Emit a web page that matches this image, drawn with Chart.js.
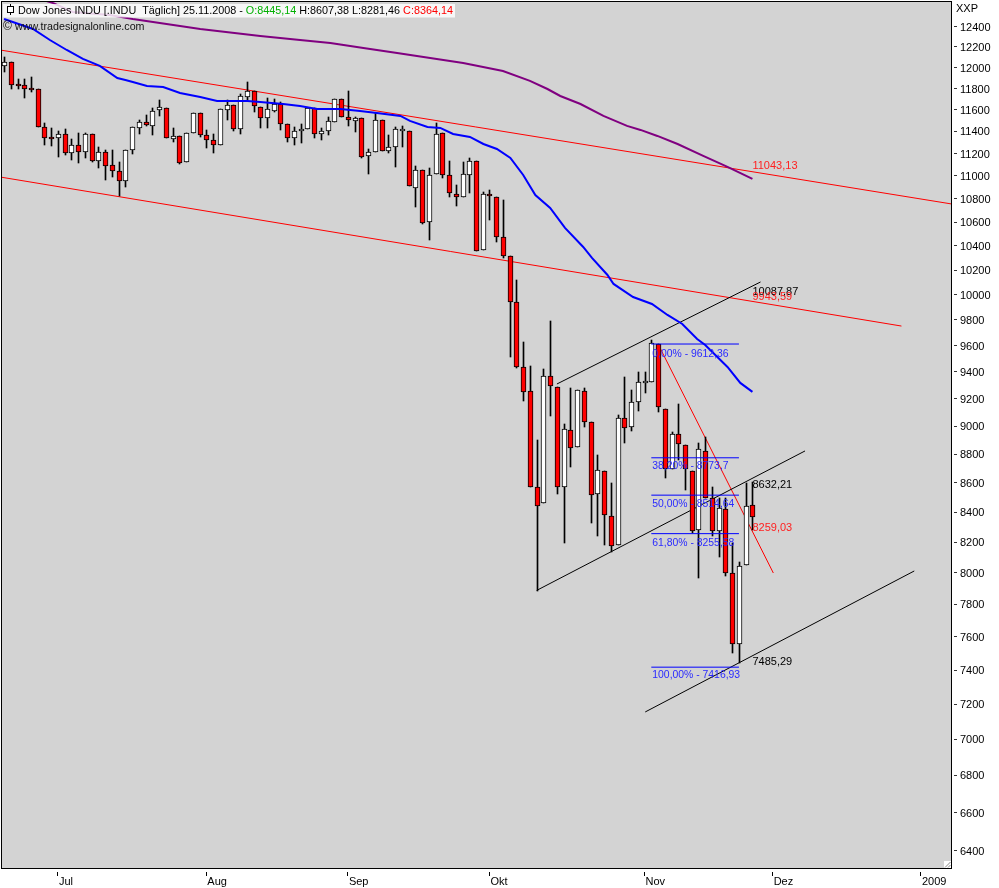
<!DOCTYPE html>
<html>
<head>
<meta charset="utf-8">
<style>html,body{margin:0;padding:0;background:#fff}#w{width:999px;height:888px;position:relative}</style>
<script src="https://cdn.jsdelivr.net/npm/chart.js@4"></script>
</head>
<body>
<div id="w"><canvas id="c" width="999" height="888"></canvas></div>
<script>
// Daily candles, index 0 .. 111 (last one = 25.11.2008)
const opens = [12010,12049,11838,11829,11800,11795,11441,11345,11341,11377,11205,11277,11214,11377,11133,11214,11097,11044,10956,11232,
11432,11487,11451,11598,11617,11332,11359,11124,11387,11570,11368,11323,11277,11598,11645,11423,11720,11776,11626,11524,
11589,11654,11469,11341,11405,11423,11617,11377,11405,11487,11701,11534,11497,11524,11178,11214,11506,11223,11259,11410,
11405,10894,11053,10602,11018,11387,11009,10842,10816,11009,11133,10366,10842,10816,10474,10316,9942,9437,9257,8571,
8461,9369,9287,8571,8972,8850,9257,9030,8523,8681,8374,8181,9059,8994,9175,9318,9324,9613,9124,8695,
8943,8865,8681,8280,8822,8496,8273,8421,7999,7557,8051,8445.14];
const highs = [12102,12049,11891,11891,11910,11795,11478,11432,11405,11423,11332,11387,11387,11377,11259,11232,11232,11124,11232,11441,
11506,11552,11617,11692,11617,11432,11359,11387,11570,11570,11414,11377,11607,11692,11645,11748,11862,11776,11626,11711,
11701,11673,11469,11441,11469,11617,11617,11432,11534,11701,11701,11777,11534,11524,11241,11570,11506,11368,11441,11451,
11405,11088,11053,11071,11478,11387,11133,10921,11124,11160,11133,10860,10877,10816,10790,10316,10119,9629,9444,8900,
9422,9792,9287,9015,9279,9264,9279,9030,8794,8681,8598,9080,9361,9264,9399,9399,9644,9613,9124,8958,
9161,8865,8681,8879,8922,8571,8496,8496,8194,8070,8598,8607.38];
const lows = [11958,11796,11795,11711,11767,11441,11277,11268,11169,11187,11142,11115,11160,11124,11071,10965,10991,10825,10903,11196,
11377,11451,11368,11543,11341,11305,11106,11124,11387,11350,11250,11205,11277,11506,11405,11377,11692,11580,11432,11432,
11580,11414,11305,11277,11296,11423,11341,11323,11368,11487,11534,11451,11396,11160,11018,11214,11223,11205,11080,11259,
10912,10730,10585,10449,11018,10983,10816,10738,10816,10851,10358,10366,10619,10432,10300,9513,9429,9183,8571,7885,
8461,9073,8523,8194,8709,8850,8994,8327,8240,8181,8135,8181,8879,8965,9110,9242,9324,9103,8633,8695,
8758,8550,8260,7967,8496,8240,8102,7980,7502,7440,8051,8281.46];
const closes = [12049,11829,11829,11791,11792,11441,11341,11338,11377,11205,11277,11214,11377,11133,11214,11088,11044,10956,11232,11441,
11487,11460,11589,11626,11341,11359,11115,11387,11570,11368,11323,11277,11607,11645,11423,11729,11776,11635,11524,11607,
11654,11469,11341,11405,11423,11617,11377,11405,11497,11701,11534,11506,11524,11169,11214,11506,11223,11259,11423,11418,
10912,11053,10593,11009,11377,11009,10851,10816,11018,11133,10358,10842,10825,10474,10316,9942,9437,9249,8571,8441,
9369,9294,8571,8979,8843,9264,9030,8516,8688,8380,8174,9059,8986,9175,9324,9329,9621,9139,8695,8943,
8872,8695,8273,8836,8496,8273,8427,7999,7557,8044,8441,8364.14];

// Moving averages: day index and value
const blueDays = [0,4.3,6.8,9.3,11.7,14.2,16.8,18,19.1,21.2,23.6,26.1,29.1,31.6,36.1,38,41.4,43.9,46.4,49.9,52.8,55.3,58.8,60.2,62.8,64.7,66.6,69.1,71.1,73.1,75.1,77,78.8,81,83.2,85.9,87.2,89.5,90.4,93.3,96.1,98.4,100.6,102.8,104,107.3,109.2,111];
const blueVals = [12477,12377,12268,12170,12083,12016,11900,11881,11862,11824,11814,11758,11720,11682,11682,11673,11654,11635,11607,11607,11589,11570,11543,11497,11441,11432,11377,11350,11286,11241,11160,11009,10833,10721,10551,10391,10300,10160,10087,9982,9926,9839,9768,9651,9605,9437,9317,9250];
const purpleDays = [5.8,7.3,10.2,15.7,19.1,29.1,38,43.9,48.4,53.3,58.3,63.2,68.1,74,78,80.6,82.5,85.5,88.9,92.4,94.4,96.9,99.9,103.7,107.3,111];
const purpleVals = [12668,12636,12547,12517,12477,12377,12308,12268,12238,12189,12140,12092,12043,11967,11872,11795,11729,11654,11543,11451,11414,11359,11286,11178,11080,10974];

// Trend lines: [day, value, day, value]
const redLines = [[-0.6,12170,140.5,10756],[-0.6,10991,133.1,9752],[97,9613,114.1,7999]];
const blackLines = [[82,9309,112.2,10103],[79,7888,118.8,8822],[95.1,7155,135,8012]];

// Fibonacci levels
const fibFrom = 96, fibTo = 109;
const fibVals = [9612.36,8773.7,8514.64,8255.58,7416.93];
const fibLabels = ['0,00% - 9612,36','38,20% - 8773,7','50,00% - 8514,64','61,80% - 8255,58','100,00% - 7416,93'];
const fibLabelPrices = [9544,8723,8461,8201,7377];

// Value labels at the last bar
const valueLabels = ['11043,13','10087,87','9943,59','8632,21','8259,03','7485,29'];
const valueLabelPrices = [11097,10030,9990,8591,8300,7454];
const valueLabelColors = ['#ff2020','#000000','#ff2020','#000000','#ff2020','#000000'];

const yTicks = [6400,6600,6800,7000,7200,7400,7600,7800,8000,8200,8400,8600,8800,9000,9200,9400,9600,9800,10000,10200,10400,10600,10800,11000,11200,11400,11600,11800,12000,12200,12400];
const monthDays = [8,30,51,72,95,114,136];
const monthNames = ['Jul','Aug','Sep','Okt','Nov','Dez','2009'];
const headerParts = [['Dow Jones INDU [.INDU  T\u00e4glich] 25.11.2008 - ','#000000'],['O:8445,14','#00b000'],[' H:8607,38 L:8281,46 ','#000000'],['C:8364,14','#ff0000']];
const watermark = 'www.tradesignalonline.com';
const symbolName = 'XXP';

const FONT = '"Liberation Sans", Arial, sans-serif';
const lineSet = (pts,color,width,order)=>({type:'line',data:pts,borderColor:color,borderWidth:width,pointRadius:0,tension:0,order,fill:false,parsing:{xAxisKey:'x',yAxisKey:'y'}});
const seg = s=>[{x:s[0],y:s[1]},{x:s[2],y:s[3]}];
const zip = (a,b)=>a.map((x,i)=>({x,y:b[i]}));

const datasets = [];
redLines.forEach(s=>datasets.push(lineSet(seg(s),'#ff0000',1,30)));
blackLines.forEach(s=>datasets.push(lineSet(seg(s),'#000000',1,29)));
datasets.push({type:'bar',order:20,barThickness:1,backgroundColor:'#000',borderWidth:0,
  data:highs.map((h,i)=>({x:i,y:[lows[i],h]}))});
datasets.push({type:'bar',order:10,barThickness:5,borderColor:'#000',borderWidth:1,borderSkipped:false,
  backgroundColor:closes.map((c,i)=>c<opens[i]?'#ff0000':'#ffffff'),
  data:opens.map((o,i)=>({x:i,y:[o,closes[i]]}))});
datasets.push(lineSet(zip(purpleDays,purpleVals),'#800080',2,5));
datasets.push(lineSet(zip(blueDays,blueVals),'#0000ff',2,4));
fibVals.forEach(v=>datasets.push(lineSet([{x:fibFrom,y:v},{x:fibTo,y:v}],'#0000ff',1,3)));

const overlay = {
  id:'overlay',
  beforeDraw(ch){
    const a=ch.chartArea,c=ch.ctx;
    c.save();c.fillStyle='#ffffff';c.fillRect(0,0,ch.width,ch.height);
    c.fillStyle='#d3d3d3';c.fillRect(a.left,a.top,a.right-a.left,a.bottom-a.top);c.restore();
  },
  beforeDatasetsDraw(ch){
    // snap candle rectangles to whole pixels
    ch.data.datasets.forEach((d,di)=>{
      if(d.type!=='bar')return;
      ch.getDatasetMeta(di).data.forEach(el=>{
        const body=d.barThickness>1;
        el.x=Math.round(el.x)+0.5;
        let t=Math.round(Math.min(el.y,el.base)),b=Math.round(Math.max(el.y,el.base));
        if(body&&b-t<2)b=t+2;
        el.y=t;el.base=b;el.height=b-t;
      });
    });
  },
  afterDraw(ch){
    const c=ch.ctx,a=ch.chartArea,X=ch.scales.x,Y=ch.scales.y;
    c.save();
    c.textBaseline='middle';
    // fib labels
    c.font='10.4px '+FONT;c.fillStyle='#2a2aff';c.textAlign='left';
    fibLabels.forEach((t,i)=>c.fillText(t,X.getPixelForValue(fibFrom)+1,Y.getPixelForValue(fibLabelPrices[i])+1));
    // value labels
    c.font='11px '+FONT;
    valueLabels.forEach((t,i)=>{c.fillStyle=valueLabelColors[i];c.fillText(t,X.getPixelForValue(111),Y.getPixelForValue(valueLabelPrices[i])+1);});
    // header strip
    c.fillStyle='rgba(255,255,255,0.82)';c.fillRect(3,4,452,13.5);
    c.fillStyle='#000';c.fillRect(10,4,1,11);c.strokeStyle='#000';c.lineWidth=1;c.fillStyle='#fff';c.fillRect(7.5,6.5,6,6);c.strokeRect(7.5,6.5,6,6);
    c.font='10.8px '+FONT;
    let x=18;
    headerParts.forEach(([t,col])=>{c.fillStyle=col;c.fillText(t,x,11.5);x+=c.measureText(t).width;});
    c.fillStyle='#111';c.font='12px '+FONT;
    c.fillText('\u00a9',3,27);c.font='10.7px '+FONT;c.fillText(watermark,15,27);
    // symbol above the price axis
    c.font='11px '+FONT;c.fillStyle='#000';c.fillText(symbolName,956,9);
    // frame
    c.strokeStyle='#000';c.lineWidth=1;
    c.strokeRect(Math.floor(a.left)+.5,Math.floor(a.top)+.5,Math.round(a.right-a.left),Math.round(a.bottom-a.top));
    // resize handle
    c.fillStyle='#fff';c.fillRect(944,861,7,7);
    c.strokeStyle='#888';c.beginPath();c.moveTo(945,867.5);c.lineTo(950.5,862);c.moveTo(948,867.5);c.lineTo(950.5,865);c.stroke();
    c.restore();
  }
};

new Chart(document.getElementById('c'),{
  type:'bar',
  data:{datasets},
  plugins:[overlay],
  options:{
    responsive:false,animation:false,
    layout:{autoPadding:false,padding:{left:1,top:1,right:0,bottom:0}},
    plugins:{legend:{display:false},title:{display:false},tooltip:{enabled:false}},
    scales:{
      x:{type:'linear',stacked:true,min:-0.45,max:140.45,offset:false,
        afterBuildTicks(s){s.ticks=monthDays.map(v=>({value:v}));},
        afterFit(s){s.height=20;s.paddingLeft=0;s.paddingRight=0;},
        border:{display:false},
        grid:{offset:false,drawOnChartArea:false,drawTicks:true,tickLength:8,tickBorderDash:[0,4,4,0],tickColor:'#000',tickWidth:1},
        ticks:{autoSkip:false,maxRotation:0,minRotation:0,align:'start',padding:-1,labelOffset:1,color:'#000',font:{family:FONT,size:11},
          callback:v=>monthNames[monthDays.indexOf(v)]}
      },
      y:{type:'logarithmic',stacked:false,position:'right',min:6313,max:12658,
        afterBuildTicks(s){s.ticks=yTicks.map(v=>({value:v}));},
        afterFit(s){s.width=48;s.paddingTop=0;s.paddingBottom=0;},
        border:{display:false},
        grid:{drawOnChartArea:false,drawTicks:true,tickLength:6,tickBorderDash:[0,3,3,0],tickColor:'#333',tickWidth:1},
        ticks:{autoSkip:false,padding:3,labelOffset:1,crossAlign:'near',color:'#000',font:{family:FONT,size:11},callback:v=>String(v)}
      }
    }
  }
});
</script>
</body>
</html>
